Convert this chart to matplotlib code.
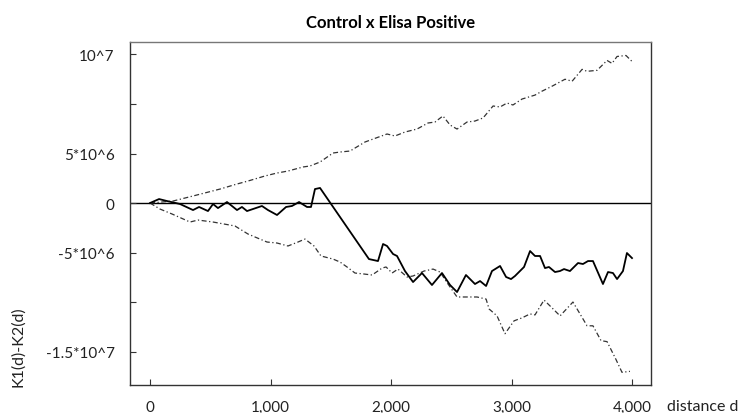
import matplotlib
matplotlib.use('Agg')
import matplotlib.pyplot as plt
import numpy as np

plt.rcParams['font.family'] = ['Lato', 'DejaVu Sans']

# observed difference K1(d)-K2(d), values in units of 10^6
diff_d = [0, 75, 141, 249, 357, 407, 481, 523, 564, 639, 722, 763, 805, 929, 979,
          1054, 1129, 1178, 1237, 1303, 1336, 1369, 1411, 1817, 1892, 1934, 1967,
          2017, 2050, 2116, 2183, 2257, 2340, 2423, 2490, 2548, 2622, 2697, 2739,
          2789, 2838, 2905, 2955, 2996, 3029, 3104, 3154, 3195, 3237, 3278, 3311,
          3361, 3402, 3436, 3485, 3552, 3593, 3635, 3676, 3759, 3801, 3842, 3876,
          3925, 3958, 4000]
diff_k = [0, 0.40, 0.20, -0.10, -0.71, -0.40, -0.81, -0.10, -0.51, 0.10, -0.71,
          -0.40, -0.81, -0.30, -0.71, -1.21, -0.40, -0.30, 0.10, -0.40, -0.40,
          1.41, 1.52, -5.66, -5.86, -4.14, -4.34, -5.15, -5.35, -6.87, -7.98,
          -7.07, -8.28, -7.07, -8.28, -8.99, -7.27, -8.18, -7.88, -8.38, -6.87,
          -6.36, -7.47, -7.68, -7.37, -6.46, -4.85, -5.35, -5.35, -6.57, -6.46,
          -6.97, -6.87, -6.67, -6.87, -6.06, -6.16, -5.86, -5.86, -8.18, -6.97,
          -7.07, -7.68, -6.87, -5.05, -5.56]

# upper envelope
upper_d = [0, 191, 357, 581, 722, 813, 954, 1054, 1145, 1270, 1328, 1411, 1519,
           1577, 1660, 1784, 1851, 1967, 2033, 2116, 2216, 2307, 2365, 2431, 2490,
           2548, 2631, 2697, 2764, 2847, 2905, 2963, 3012, 3087, 3195, 3254, 3337,
           3444, 3503, 3586, 3627, 3710, 3793, 3834, 3876, 3950, 4000]
upper_k = [0, 0.20, 0.71, 1.41, 1.92, 2.22, 2.73, 3.03, 3.23, 3.64, 3.74, 4.14,
           5.05, 5.15, 5.25, 6.16, 6.46, 6.97, 6.77, 7.17, 7.47, 8.08, 8.18, 8.79,
           7.88, 7.47, 8.18, 8.28, 8.59, 9.80, 9.70, 10.10, 9.90, 10.5, 10.9, 11.3,
           11.8, 12.5, 12.3, 13.5, 13.3, 13.4, 14.4, 14.1, 14.8, 14.9, 14.3]

# lower envelope
lower_d = [0, 83, 183, 332, 398, 523, 705, 813, 871, 971, 1054, 1145, 1228, 1286,
           1361, 1419, 1519, 1577, 1635, 1701, 1776, 1843, 1926, 1959, 2009, 2058,
           2133, 2183, 2274, 2349, 2407, 2473, 2548, 2631, 2714, 2789, 2814, 2880,
           2946, 3021, 3087, 3154, 3195, 3270, 3337, 3403, 3510, 3627, 3676, 3743,
           3793, 3867, 3917, 3983]
lower_k = [0, -0.61, -1.11, -1.92, -1.72, -1.92, -2.32, -3.13, -3.43, -3.94, -4.04,
           -4.34, -3.94, -3.64, -4.34, -5.35, -5.66, -5.96, -6.46, -7.07, -7.17,
           -7.27, -6.57, -6.46, -7.07, -6.67, -7.47, -7.37, -6.87, -6.67, -6.97,
           -8.18, -9.49, -9.49, -9.49, -9.70, -10.7, -11.4, -13.2, -11.9, -11.6,
           -11.2, -11.3, -9.80, -10.6, -11.4, -10.0, -12.4, -12.4, -13.9, -14.0,
           -15.8, -17.1, -17.0]

x_ticks = [0, 1000, 2000, 3000, 4000]
x_labels = ['0', '1,000', '2,000', '3,000', '4,000']
y_ticks = [15e6, 10e6, 5e6, 0, -5e6, -10e6, -15e6]
y_labels = ['10^7', '', '5*10^6', '0', '-5*10^6', '', '-1.5*10^7']

fig = plt.figure(figsize=(7.55, 4.14), dpi=100)
ax = fig.add_axes([0.1722, 0.0676, 0.6901, 0.8285])

sc = 1e6
ax.axhline(0, color='black', lw=1.0, zorder=1)
ax.plot(upper_d, np.array(upper_k) * sc, color='#333333', lw=0.9,
        dashes=(4, 2, 1, 2))
ax.plot(lower_d, np.array(lower_k) * sc, color='#333333', lw=0.9,
        dashes=(4, 2, 1, 2))
ax.plot(diff_d, np.array(diff_k) * sc, color='black', lw=1.3)

ax.set_xlim(-166, 4158)
ax.set_ylim(-18.38e6, 16.26e6)
ax.set_xticks(x_ticks)
ax.set_xticklabels(x_labels)
ax.set_yticks(y_ticks)
ax.set_yticklabels(y_labels)
ax.tick_params(direction='in', length=4, width=0.8, labelsize=11,
               labelcolor='#222222', color='#333333')
ax.tick_params(axis='x', pad=10.5)
ax.tick_params(axis='y', pad=11)

ax.spines['top'].set_color('#777777')
for s in ['left', 'right', 'bottom']:
    ax.spines[s].set_color('#333333')
for s in ax.spines.values():
    s.set_linewidth(1.0)

ax.set_title('Control x Elisa Positive', fontsize=12, fontweight='bold', pad=11)
fig.text(667 / 755, 1 - 407 / 414, 'distance d', fontsize=11.5, color='#222222',
         ha='left', va='center')
fig.text(18 / 755, 1 - 347 / 414, 'K1(d)-K2(d)', fontsize=11.5, color='#222222',
         rotation=90, ha='center', va='center')

fig.savefig('out.png', dpi=100)
